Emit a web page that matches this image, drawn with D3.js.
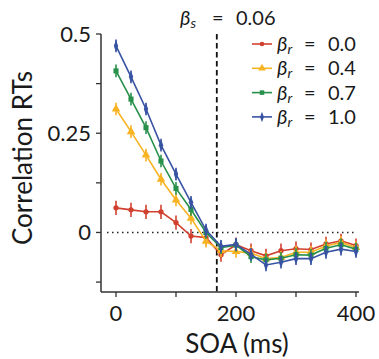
<!DOCTYPE html>
<html><head><meta charset="utf-8">
<script src="https://cdn.jsdelivr.net/npm/d3@7"></script>
<style>body{margin:0;background:#fff}svg{display:block}text{font-family:"Lato","DejaVu Sans",sans-serif;font-weight:400;fill:#1a1a1a}</style>
</head><body>
<script>
const soa = [0,25,50,75,100,125,150,175,200,225,250,275,300,325,350,375,400];
const betaR = ["0.0","0.4","0.7","1.0"];
const red    = [0.062,0.057,0.052,0.052,0.025,-0.009,-0.013,-0.056,-0.031,-0.046,-0.059,-0.046,-0.041,-0.043,-0.029,-0.021,-0.033];
const yellow = [0.311,0.254,0.195,0.134,0.082,0.036,-0.022,-0.046,-0.048,-0.052,-0.066,-0.063,-0.050,-0.050,-0.034,-0.025,-0.038];
const green  = [0.407,0.336,0.264,0.180,0.111,0.058,0.000,-0.038,-0.032,-0.061,-0.069,-0.065,-0.056,-0.057,-0.040,-0.031,-0.042];
const blue   = [0.470,0.392,0.311,0.220,0.147,0.076,0.006,-0.035,-0.030,-0.055,-0.082,-0.075,-0.066,-0.066,-0.050,-0.042,-0.048];
const errs   = [0.018,0.016,0.016,0.016];
const betaS = "0.06";
const yTicks = [0,0.25,0.5], yMinor = [-0.125,0.125,0.375];
const xTicks = [0,200,400], xMinor = [100,300];

const series = [red,yellow,green,blue];
const colors = ["#d1402f","#f8b323","#27904a","#3953a3"];
const shapes = [d3.symbolCircle,d3.symbolTriangle,d3.symbolSquare,d3.symbolDiamond];
const sizes = [22,32,26,30];

const W=379,H=359;
const svg=d3.select("body").append("svg").attr("width",W).attr("height",H);
const x=d3.scaleLinear().domain([-25,405]).range([101,359]);
const y=d3.scaleLinear().domain([-0.15,0.5]).range([292,34]);

// reference lines
svg.append("line").attr("x1",x(-15)).attr("x2",x(400)).attr("y1",y(0)).attr("y2",y(0))
  .attr("stroke","#222").attr("stroke-width",1.6).attr("stroke-dasharray","1.5,3.5");
const vx=168;
svg.append("line").attr("x1",x(vx)).attr("x2",x(vx)).attr("y1",y(0.5)).attr("y2",y(-0.15))
  .attr("stroke","#111").attr("stroke-width",1.8).attr("stroke-dasharray","5.5,3.5");

// series
series.forEach((s,i)=>{
  const g=svg.append("g");
  g.append("path").datum(s).attr("fill","none").attr("stroke",colors[i]).attr("stroke-width",1.6)
   .attr("d",d3.line().x((d,j)=>x(soa[j])).y(d=>y(d)));
  g.selectAll("line.e").data(s).join("line").attr("x1",(d,j)=>x(soa[j])).attr("x2",(d,j)=>x(soa[j]))
   .attr("y1",d=>y(d-errs[i])).attr("y2",d=>y(d+errs[i])).attr("stroke",colors[i]).attr("stroke-width",1.6);
  g.selectAll("path.m").data(s).join("path")
   .attr("transform",(d,j)=>`translate(${x(soa[j])},${y(d)})`+(i===3?" scale(0.75,1.15)":""))
   .attr("d",d3.symbol().type(shapes[i]).size(sizes[i])).attr("fill",colors[i]);
});

// axes
const ax="#333";
svg.append("line").attr("x1",101).attr("x2",101).attr("y1",y(0.5)).attr("y2",y(-0.15)).attr("stroke",ax).attr("stroke-width",1.5);
svg.append("line").attr("x1",101).attr("x2",x(405)).attr("y1",292).attr("y2",292).attr("stroke",ax).attr("stroke-width",1.5);
yTicks.concat(yMinor).forEach(t=>svg.append("line").attr("x1",96).attr("x2",101).attr("y1",y(t)).attr("y2",y(t)).attr("stroke",ax).attr("stroke-width",1.3));
xTicks.concat(xMinor).forEach(t=>svg.append("line").attr("x1",x(t)).attr("x2",x(t)).attr("y1",292).attr("y2",297).attr("stroke",ax).attr("stroke-width",1.3));
yTicks.forEach(t=>svg.append("text").attr("x",91).attr("y",y(t)+7.5).attr("text-anchor","end").attr("font-size",22).text(t===0?"0":String(t)));
xTicks.forEach(t=>svg.append("text").attr("x",x(t)).attr("y",321).attr("text-anchor","middle").attr("font-size",22).text(t));
svg.append("text").attr("transform","translate(32,158) rotate(-90)").attr("text-anchor","middle").attr("font-size",26).text("Correlation RTs");
svg.append("text").attr("x",237).attr("y",353).attr("text-anchor","middle").attr("font-size",26).text("SOA (ms)");

// title (math-style spacing)
const tt=svg.append("text").attr("y",25).attr("font-size",20);
tt.append("tspan").attr("x",180).attr("font-style","italic").text("β");
tt.append("tspan").attr("font-style","italic").attr("font-size",14).attr("dy",3).text("s");
tt.append("tspan").attr("x",212).attr("dy",-3).text("=");
tt.append("tspan").attr("x",236).text(betaS);

// legend
betaR.forEach((b,i)=>{
  const ly=44+i*24.3;
  svg.append("line").attr("x1",252).attr("x2",272).attr("y1",ly).attr("y2",ly).attr("stroke",colors[i]).attr("stroke-width",1.6);
  svg.append("path").attr("transform",`translate(262,${ly})`+(i===3?" scale(0.75,1.15)":"")).attr("d",d3.symbol().type(shapes[i]).size(sizes[i]*0.8)).attr("fill",colors[i]);
  const t=svg.append("text").attr("y",ly+7).attr("font-size",20);
  t.append("tspan").attr("x",277).attr("font-style","italic").text("β");
  t.append("tspan").attr("font-style","italic").attr("font-size",14).attr("dy",3).text("r");
  t.append("tspan").attr("x",304).attr("dy",-3).text("=");
  t.append("tspan").attr("x",328).text(b);
});
</script>
</body></html>
